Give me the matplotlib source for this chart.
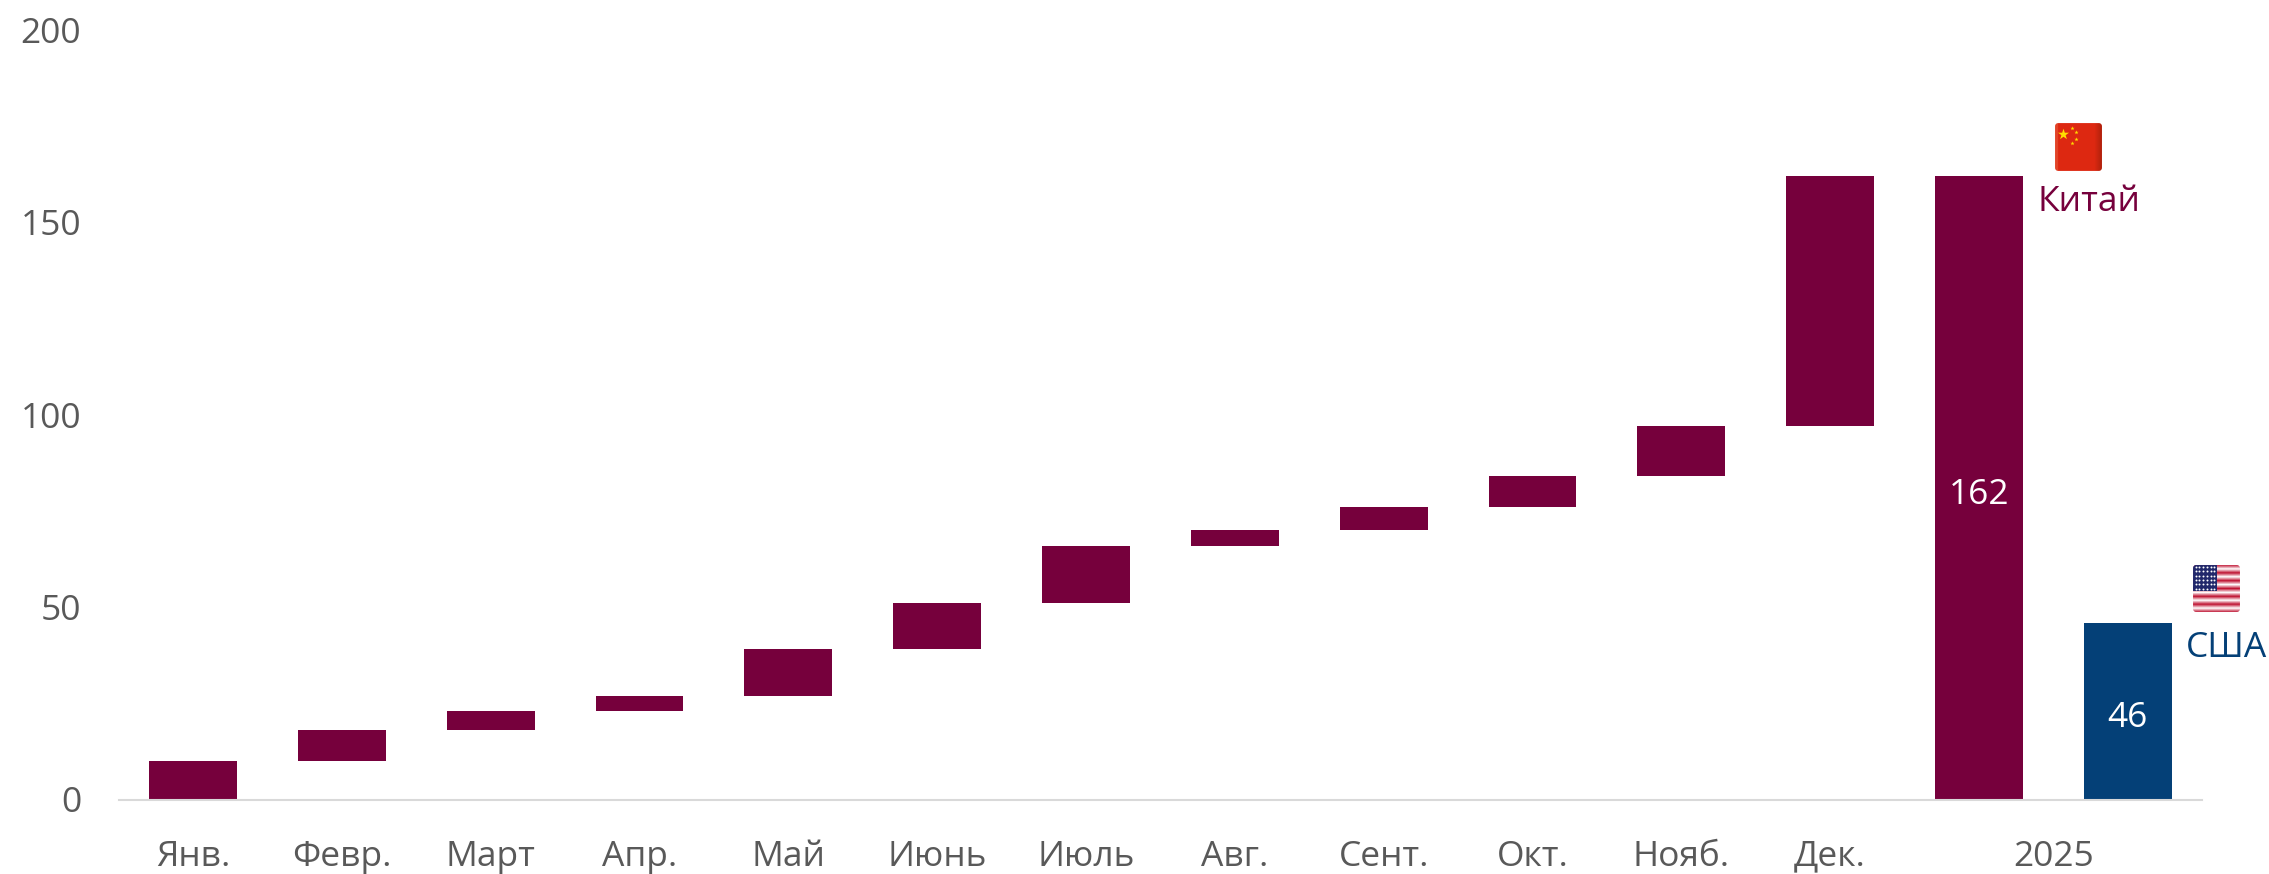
import numpy as np
import matplotlib
matplotlib.use('Agg')
import matplotlib.pyplot as plt
from matplotlib.patches import FancyBboxPatch

plt.rcParams['font.family'] = ['Open Sans', 'DejaVu Sans']

months = ['Янв.', 'Февр.', 'Март', 'Апр.', 'Май', 'Июнь', 'Июль', 'Авг.', 'Сент.', 'Окт.', 'Нояб.', 'Дек.']
monthly = [10, 8, 5, 4, 12, 12, 15, 4, 6, 8, 13, 65]
china_total = 162
usa_total = 46
year_label = '2025'
yticks = [0, 50, 100, 150, 200]

W, H = 2269, 874
MAROON = '#76003C'
BLUE = '#044077'
GREY = '#595959'
FS = 25.5


def flag_axes(fig, x0, y0, x1, y1):
    # pixel box, y from the top of the image
    a = fig.add_axes([x0 / W, 1 - y1 / H, (x1 - x0) / W, (y1 - y0) / H])
    a.set_xlim(0, 1)
    a.set_ylim(0, 1)
    a.axis('off')
    clip = FancyBboxPatch((0.04, 0.04), 0.92, 0.92, boxstyle='round,pad=0,rounding_size=0.06',
                          transform=a.transAxes, fc='none', ec='none')
    a.add_patch(clip)
    return a, clip


def china_flag(fig):
    a, clip = flag_axes(fig, 2053, 121, 2104, 173)
    shade = np.ones((1, 60, 3)) * np.array([0.87, 0.16, 0.07])
    shade[0, :6] = [0.89, 0.27, 0.16]
    shade[0, 48:] = np.linspace([0.87, 0.16, 0.07], [0.65, 0.12, 0.04], 12)
    im = a.imshow(shade, extent=(0, 1, 0, 1), aspect='auto')
    im.set_clip_path(clip)
    a.scatter([0.2], [0.75], marker='*', s=70, color='#FFDE00', lw=0)
    a.scatter([0.38, 0.46, 0.46, 0.38], [0.86, 0.78, 0.66, 0.58], marker='*', s=10, color='#FFDE00', lw=0)


def usa_flag(fig):
    a, clip = flag_axes(fig, 2191, 563, 2242, 614)
    rows = np.array([i % 2 == 0 for i in range(13)])
    img = np.ones((13, 1, 3))
    img[rows] = [0.75, 0.08, 0.2]
    im = a.imshow(img, extent=(0, 1, 0, 1), aspect='auto', interpolation='bilinear')
    im.set_clip_path(clip)
    canton = a.imshow(np.array([[[0.13, 0.16, 0.42]]]), extent=(0.04, 0.5, 0.46, 0.96), aspect='auto')
    canton.set_clip_path(clip)
    xs, ys = np.meshgrid(np.linspace(0.09, 0.46, 6), np.linspace(0.5, 0.92, 6))
    a.scatter(xs.ravel(), ys.ravel(), s=2, color='white', lw=0)
    a.set_xlim(0, 1)
    a.set_ylim(0, 1)


fig = plt.figure(figsize=(W / 100, H / 100), dpi=100, facecolor='white')
ax = fig.add_axes([118.6 / W, 1 - 799.5 / H, (2202.2 - 118.6) / W, (799.5 - 30) / H])

bottoms = np.concatenate(([0], np.cumsum(monthly)[:-1]))
x = np.arange(len(months))
ax.bar(x, monthly, bottom=bottoms, width=0.59, color=MAROON)
ax.bar(12, china_total, width=0.59, color=MAROON)
ax.bar(13, usa_total, width=0.59, color=BLUE)

ax.text(12, china_total / 2 - 1.8, str(china_total), color='white', fontsize=FS, ha='center', va='center')
ax.text(13, usa_total / 2 - 1.8, str(usa_total), color='white', fontsize=FS, ha='center', va='center')
ax.text(12.74, 155.4, 'Китай', color=MAROON, fontsize=FS, ha='center', va='center', clip_on=False)
ax.text(13.66, 39.5, 'США', color=BLUE, fontsize=FS, ha='center', va='center', clip_on=False)

ax.set_xlim(-0.5, 13.5)
ax.set_ylim(0, 200)
ax.set_yticks(yticks)
ax.set_xticks(list(x) + [12.5])
ax.set_xticklabels(months + [year_label])
ax.tick_params(axis='both', length=0, labelsize=FS, labelcolor=GREY)
ax.tick_params(axis='y', pad=27)
ax.tick_params(axis='x', pad=29)
for s in ['top', 'left', 'right']:
    ax.spines[s].set_visible(False)
ax.spines['bottom'].set_color('#D9D9D9')
ax.spines['bottom'].set_linewidth(1.5)

china_flag(fig)
usa_flag(fig)

plt.savefig('out.png', dpi=100)
